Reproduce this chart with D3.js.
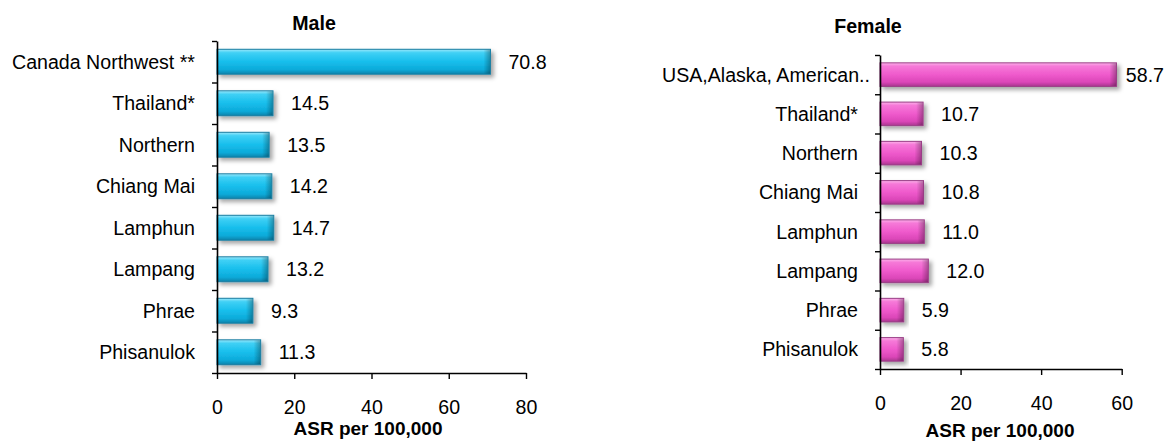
<!DOCTYPE html>
<html>
<head>
<meta charset="utf-8">
<script src="https://cdn.jsdelivr.net/npm/d3@7"></script>
<style>
  html, body { margin: 0; padding: 0; background: #fff; }
  svg { display: block; font-family: "Liberation Sans", Arial, Helvetica, sans-serif; }
</style>
</head>
<body>
<svg id="chart" width="1166" height="441"></svg>
<script>
// Age-standardised incidence rates per 100,000, by region
const maleCategories = ["Canada Northwest **", "Thailand*", "Northern", "Chiang Mai", "Lamphun", "Lampang", "Phrae", "Phisanulok"];
const maleValues = [70.8, 14.5, 13.5, 14.2, 14.7, 13.2, 9.3, 11.3];
const maleTicks = [0, 20, 40, 60, 80];

const femaleCategories = ["USA,Alaska, American..", "Thailand*", "Northern", "Chiang Mai", "Lamphun", "Lampang", "Phrae", "Phisanulok"];
const femaleValues = [58.7, 10.7, 10.3, 10.8, 11.0, 12.0, 5.9, 5.8];
const femaleTicks = [0, 20, 40, 60];

const axisTitle = "ASR per 100,000";
const W = 1166, H = 441;
const FONT = 19.6;

const svg = d3.select("#chart");
const defs = svg.append("defs");

// soft drop shadow under each bar
const shadow = defs.append("filter").attr("id", "barShadow")
  .attr("x", "-10%").attr("y", "-30%").attr("width", "130%").attr("height", "180%");
shadow.append("feDropShadow").attr("dx", 3).attr("dy", 3).attr("stdDeviation", 2)
  .attr("flood-color", "#000").attr("flood-opacity", 0.35);

// vertical bevel gradients for the bar fills
function bevel(id, stops) {
  const g = defs.append("linearGradient").attr("id", id)
    .attr("x1", 0).attr("y1", 0).attr("x2", 0).attr("y2", 1);
  stops.forEach(([o, c]) => g.append("stop").attr("offset", o).attr("stop-color", c));
}
bevel("gradMale", [["0%", "#9BE8FB"], ["14%", "#3FD0F5"], ["50%", "#17BEEC"], ["82%", "#0DAAD9"], ["100%", "#0A82AA"]]);
bevel("gradFemale", [["0%", "#FCB2EA"], ["14%", "#F679D8"], ["50%", "#EF5ACC"], ["82%", "#DB46B8"], ["100%", "#A8368E"]]);

// darkened right end of each bar
const edge = defs.append("linearGradient").attr("id", "edgeShade")
  .attr("x1", 0).attr("y1", 0).attr("x2", 1).attr("y2", 0);
edge.append("stop").attr("offset", "0%").attr("stop-color", "#000").attr("stop-opacity", 0);
edge.append("stop").attr("offset", "100%").attr("stop-color", "#000").attr("stop-opacity", 0.28);

function drawPanel(cfg) {
  const g = svg.append("g");
  const x = d3.scaleLinear().domain([cfg.ticks[0], cfg.ticks[cfg.ticks.length - 1]]).range([cfg.left, cfg.right]);
  const y = d3.scaleBand().domain(cfg.categories).range([cfg.top, cfg.bottom]).paddingInner(0.4).paddingOuter(0.2);
  const rows = cfg.categories.map((c, i) => ({ c, v: cfg.values[i] }));

  // bars
  const bars = g.append("g");
  bars.selectAll("rect.bar").data(rows).join("rect")
    .attr("class", "bar")
    .attr("x", x(0))
    .attr("y", d => y(d.c))
    .attr("width", d => x(d.v) - x(0))
    .attr("height", y.bandwidth())
    .attr("fill", `url(#${cfg.grad})`)
    .attr("stroke", cfg.stroke)
    .attr("stroke-width", 1)
    .attr("filter", "url(#barShadow)");
  bars.selectAll("rect.edge").data(rows).join("rect")
    .attr("class", "edge")
    .attr("x", d => x(d.v) - Math.min(7, x(d.v) - x(0)))
    .attr("y", d => y(d.c) + 0.5)
    .attr("width", d => Math.min(7, x(d.v) - x(0)) - 0.5)
    .attr("height", y.bandwidth() - 1)
    .attr("fill", "url(#edgeShade)");

  // value labels at the bar ends
  const fmt = d3.format(".1f");
  g.append("g").selectAll("text").data(rows).join("text")
    .attr("x", d => x(d.v) + 18)
    .attr("y", d => y(d.c) + y.bandwidth() / 2)
    .attr("dy", "0.36em")
    .attr("font-size", FONT)
    .attr("fill", "#000")
    .text(d => fmt(d.v))
    .each(function () {
      const w = this.getComputedTextLength();
      const xx = +this.getAttribute("x");
      if (xx + w > W - 2) this.setAttribute("x", W - 2 - w);
    });

  // category axis: line and tick marks on band boundaries
  const yEdges = d3.scaleLinear().domain([0, cfg.categories.length]).range([cfg.top, cfg.bottom]);
  const yAxis = g.append("g").attr("transform", `translate(${cfg.left},0)`)
    .call(d3.axisLeft(yEdges).tickValues(d3.range(cfg.categories.length + 1)).tickSize(5).tickSizeOuter(0).tickFormat(""));
  yAxis.select(".domain").attr("stroke", "#000").attr("stroke-width", 1.6);
  yAxis.selectAll(".tick line").attr("stroke", "#000").attr("stroke-width", 1.4);

  // category labels
  g.append("g").selectAll("text").data(rows).join("text")
    .attr("x", d => cfg.left - 22 + (d.c.endsWith("..") ? 12 : 0))
    .attr("y", d => y(d.c) + y.bandwidth() / 2)
    .attr("dy", "0.36em")
    .attr("text-anchor", "end")
    .attr("font-size", FONT)
    .attr("fill", "#000")
    .text(d => d.c);

  // value axis
  const xAxis = g.append("g").attr("transform", `translate(0,${cfg.bottom})`)
    .call(d3.axisBottom(x).tickValues(cfg.ticks).tickSize(6).tickSizeOuter(0).tickFormat(d3.format("d")));
  xAxis.select(".domain").attr("stroke", "#000").attr("stroke-width", 1.6);
  xAxis.selectAll(".tick line").attr("stroke", "#000").attr("stroke-width", 1.4);
  xAxis.selectAll(".tick text")
    .attr("y", cfg.tickBase).attr("dy", 0)
    .attr("font-size", FONT)
    .attr("font-family", "Liberation Sans, Arial, sans-serif")
    .attr("fill", "#000");

  // axis title
  g.append("text")
    .attr("x", cfg.axisTitleX).attr("y", cfg.axisTitleY)
    .attr("text-anchor", "middle")
    .attr("font-size", FONT - 0.6).attr("font-weight", "bold")
    .text(axisTitle);

  // panel title
  g.append("text")
    .attr("x", cfg.titleX).attr("y", cfg.titleY)
    .attr("text-anchor", "middle")
    .attr("font-size", FONT).attr("font-weight", "bold")
    .text(cfg.title);
}

drawPanel({
  title: "Male", titleX: 314, titleY: 30,
  categories: maleCategories, values: maleValues, ticks: maleTicks,
  left: 217, right: 526, top: 41, bottom: 373,
  tickBase: 41, axisTitleX: 368, axisTitleY: 435,
  grad: "gradMale", stroke: "#1B7FA3"
});

drawPanel({
  title: "Female", titleX: 868, titleY: 33,
  categories: femaleCategories, values: femaleValues, ticks: femaleTicks,
  left: 880, right: 1121.7, top: 55, bottom: 369,
  tickBase: 41, axisTitleX: 1000, axisTitleY: 437,
  grad: "gradFemale", stroke: "#9A3D86"
});
</script>
</body>
</html>
